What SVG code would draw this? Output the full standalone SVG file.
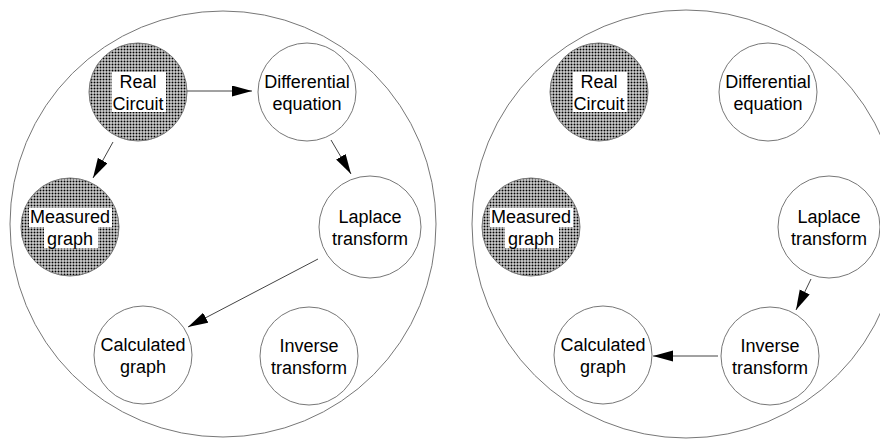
<svg xmlns="http://www.w3.org/2000/svg" width="880" height="439" viewBox="0 0 880 439">
<defs>
<pattern id="dots" x="0" y="0" width="3" height="3" patternUnits="userSpaceOnUse">
<rect x="0.5" y="0.5" width="2" height="2" fill="#000"/>
</pattern>
<marker id="arr" markerUnits="userSpaceOnUse" markerWidth="21" markerHeight="12" refX="20" refY="5.5" orient="auto">
<path d="M0,0 L20,5.5 L0,11 z" fill="#000"/>
</marker>
<style>
.big{fill:#fff;stroke:#777;stroke-width:1}
.n{fill:#fff;stroke:#777;stroke-width:1}
.h{fill:url(#dots);stroke:#777;stroke-width:1}
.bg{fill:#fff}
text{font-family:"Liberation Sans",Arial,sans-serif;font-size:18px;fill:#000;text-anchor:middle}
.c{stroke:#444;stroke-width:1;fill:none;marker-end:url(#arr)}
</style>
</defs>
<rect width="880" height="439" fill="#fff"/>
<g id="panel-left">
<circle class="big" cx="223" cy="224" r="213"/>
</g>
<g id="panel-right">
<circle class="big" cx="686" cy="224" r="214"/>
</g>

<g id="L-real">
<circle class="h" cx="138" cy="92" r="49"/>
<rect class="bg" x="112" y="72" width="54" height="40"/>
<text x="138" y="88">Real</text><text x="138" y="110">Circuit</text>
</g>
<g id="L-diff">
<circle class="n" cx="307" cy="92" r="49"/>
<text x="307" y="88">Differential</text><text x="307" y="110">equation</text>
</g>
<g id="L-meas">
<circle class="h" cx="70" cy="227" r="49"/>
<rect class="bg" x="29" y="208" width="83" height="19"/>
<rect class="bg" x="44" y="227" width="54" height="21"/>
<text x="70" y="223">Measured</text><text x="70" y="245">graph</text>
</g>
<g id="L-lap">
<circle class="n" cx="370" cy="227" r="51"/>
<text x="370" y="223">Laplace</text><text x="370" y="245">transform</text>
</g>
<g id="L-calc">
<circle class="n" cx="143" cy="355" r="49"/>
<text x="143" y="351">Calculated</text><text x="143" y="373">graph</text>
</g>
<g id="L-inv">
<circle class="n" cx="309" cy="356" r="49"/>
<text x="309" y="352">Inverse</text><text x="309" y="374">transform</text>
</g>

<g id="R-real">
<circle class="h" cx="599" cy="92" r="49"/>
<rect class="bg" x="573" y="72" width="54" height="40"/>
<text x="599" y="88">Real</text><text x="599" y="110">Circuit</text>
</g>
<g id="R-diff">
<circle class="n" cx="768" cy="92" r="49"/>
<text x="768" y="88">Differential</text><text x="768" y="110">equation</text>
</g>
<g id="R-meas">
<circle class="h" cx="531" cy="227" r="49"/>
<rect class="bg" x="490" y="208" width="83" height="19"/>
<rect class="bg" x="505" y="227" width="54" height="21"/>
<text x="531" y="223">Measured</text><text x="531" y="245">graph</text>
</g>
<g id="R-lap">
<circle class="n" cx="829" cy="227" r="51"/>
<text x="829" y="223">Laplace</text><text x="829" y="245">transform</text>
</g>
<g id="R-calc">
<circle class="n" cx="603" cy="355" r="49"/>
<text x="603" y="351">Calculated</text><text x="603" y="373">graph</text>
</g>
<g id="R-inv">
<circle class="n" cx="770" cy="356" r="49"/>
<text x="770" y="352">Inverse</text><text x="770" y="374">transform</text>
</g>

<g id="connectors">
<line class="c" x1="187" y1="91" x2="252" y2="91"/>
<line class="c" x1="113" y1="142" x2="93" y2="178"/>
<line class="c" x1="331" y1="140" x2="351" y2="174"/>
<line class="c" x1="318" y1="259" x2="188" y2="327"/>
<line class="c" x1="811" y1="279" x2="796" y2="310"/>
<line class="c" x1="718" y1="356" x2="653" y2="356"/>
</g>
</svg>
